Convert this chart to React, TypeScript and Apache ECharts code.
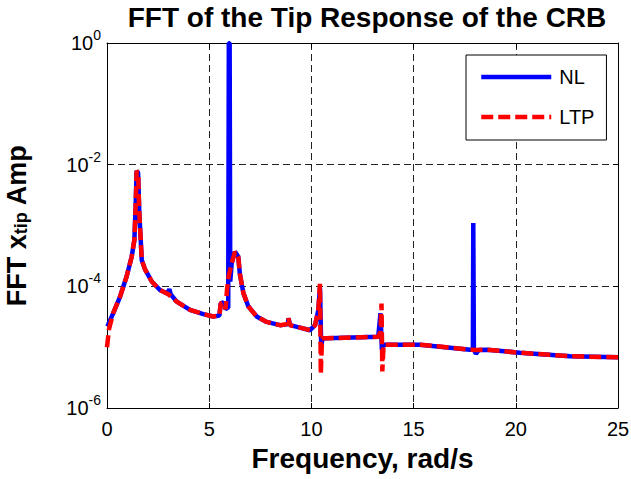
import React, { useEffect, useRef } from "react";
import * as echarts from "echarts";

const FONT = "'Liberation Sans', Arial, Helvetica, sans-serif";

const titleText = "FFT of the Tip Response of the CRB";
const xTitle = "Frequency, rad/s";
const seriesNames = ["NL", "LTP"];

// [frequency (rad/s), FFT amplitude]
const nlPoints: [number, number][] = [
  [0.02, 2.2e-5], [0.30, 3.6e-5], [0.64, 6.8e-5], [0.96, 1.45e-4], [1.21, 3.1e-4],
  [1.34, 5.8e-4], [1.40, 2.0e-3], [1.45, 7.9e-3], [1.52, 7.4e-3], [1.58, 1.6e-3],
  [1.65, 5.8e-4], [1.70, 2.7e-4], [1.86, 1.9e-4], [2.19, 1.2e-4], [2.59, 8.7e-5],
  [2.95, 7.6e-5], [3.05, 9.0e-5], [3.12, 7.4e-5], [3.41, 5.6e-5], [4.06, 4.1e-5],
  [4.71, 3.5e-5], [5.20, 3.2e-5], [5.50, 3.3e-5], [5.56, 5.2e-5], [5.70, 5.5e-5],
  [5.80, 4.2e-5], [5.93, 4.5e-5], [5.96, 1.0], [6.00, 1.0], [6.03, 1.2e-4],
  [6.10, 2.4e-4], [6.26, 3.7e-4], [6.42, 3.1e-4], [6.50, 1.6e-4], [6.67, 7.8e-5],
  [6.91, 4.7e-5], [7.32, 3.2e-5], [7.81, 2.6e-5], [8.46, 2.3e-5], [8.85, 2.4e-5],
  [8.88, 3.0e-5], [8.95, 2.3e-5], [9.44, 2.1e-5], [9.93, 1.9e-5], [10.18, 2.3e-5],
  [10.34, 4.1e-5], [10.42, 9.5e-5], [10.48, 1.05e-5], [10.55, 1.4e-5], [10.75, 1.4e-5],
  [13.27, 1.48e-5], [13.38, 3.6e-5], [13.45, 9.0e-6], [13.52, 1.1e-5], [15.31, 1.1e-5],
  [17.76, 9.1e-6], [17.90, 9.1e-6], [17.92, 1.1e-3], [17.95, 9.1e-6], [18.05, 7.8e-6],
  [18.20, 9.0e-6], [18.58, 9.1e-6], [20.20, 8.1e-6], [22.65, 7.1e-6], [25.00, 6.8e-6],
];

const ltpPoints: [number, number][] = [
  [0.00, 1.0e-5], [0.10, 2.0e-5], [0.30, 3.6e-5], [0.64, 6.8e-5], [0.96, 1.45e-4],
  [1.21, 3.1e-4], [1.34, 5.8e-4], [1.40, 2.0e-3], [1.45, 7.9e-3], [1.52, 7.4e-3],
  [1.58, 1.6e-3], [1.65, 5.8e-4], [1.70, 2.7e-4], [1.86, 1.9e-4], [2.19, 1.2e-4],
  [2.59, 8.7e-5], [3.00, 7.4e-5], [3.41, 5.6e-5], [4.06, 4.1e-5], [4.71, 3.5e-5],
  [5.20, 3.2e-5], [5.50, 3.3e-5], [5.56, 5.2e-5], [5.70, 5.5e-5], [5.80, 4.2e-5],
  [5.87, 8.7e-5], [5.95, 1.45e-4], [6.10, 2.4e-4], [6.26, 3.7e-4], [6.42, 3.1e-4],
  [6.50, 1.6e-4], [6.67, 7.8e-5], [6.91, 4.7e-5], [7.32, 3.2e-5], [7.81, 2.6e-5],
  [8.46, 2.3e-5], [8.85, 2.4e-5], [8.88, 3.0e-5], [8.95, 2.3e-5], [9.44, 2.1e-5],
  [9.93, 1.9e-5], [10.18, 2.3e-5], [10.34, 4.1e-5], [10.42, 1.1e-4], [10.46, 3.6e-6],
  [10.52, 1.4e-5], [10.75, 1.4e-5], [13.27, 1.48e-5], [13.38, 1.8e-5], [13.43, 5.2e-5],
  [13.47, 4.0e-6], [13.53, 1.1e-5], [15.31, 1.1e-5], [17.76, 9.1e-6], [18.10, 9.0e-6],
  [18.58, 9.1e-6], [20.20, 8.1e-6], [22.65, 7.1e-6], [25.00, 6.8e-6],
];

const xMin = 0;
const xMax = 25;
const xStep = 5;
const yMin = 1e-6;
const yMax = 1;
const yDecadeStep = 2;

const axisLineStyle = { color: "#000", width: 1 };

export default function App() {
  const ref = useRef<HTMLDivElement>(null);
  useEffect(() => {
    if (!ref.current) return;
    const chart = echarts.init(ref.current, undefined, { renderer: "svg" });
    const logLabel = (v: number) => {
      const e = Math.round(Math.log10(v));
      return `{b|10}{s|${e}}`;
    };
    chart.setOption({
      animation: false,
      backgroundColor: "#fff",
      textStyle: { fontFamily: FONT, color: "#000" },
      title: {
        text: titleText,
        left: 362,
        top: -2,
        textAlign: "center",
        textStyle: { fontFamily: FONT, fontWeight: "bold", fontSize: 28, color: "#000" },
      },
      grid: { left: 107, right: 13, top: 43, bottom: 71, containLabel: false, outerBoundsMode: "none" },
      legend: {
        data: seriesNames,
        orient: "vertical",
        left: 466,
        top: 55,
        itemWidth: 70,
        itemHeight: 14,
        itemGap: 20,
        padding: [12, 12, 13, 13],
        borderColor: "#000",
        borderWidth: 1,
        borderRadius: 0,
        backgroundColor: "#fff",
        itemStyle: { opacity: 0, borderWidth: 0 },
        lineStyle: { width: 4.5 },
        textStyle: { fontFamily: FONT, fontSize: 20, color: "#000", padding: [0, 0, 0, 3] },
      },
      xAxis: [
        {
          type: "value",
          min: xMin,
          max: xMax,
          interval: xStep,
          axisLine: { show: true, onZero: false, lineStyle: axisLineStyle },
          axisTick: { show: true, inside: true, length: 5, lineStyle: axisLineStyle },
          axisLabel: { fontFamily: FONT, fontSize: 20, color: "#000", margin: 11 },
          splitLine: { show: true, lineStyle: { type: [7, 4], color: "#222", width: 1 } },
          name: xTitle,
          nameLocation: "middle",
          nameGap: 36,
          nameTextStyle: { fontFamily: FONT, fontSize: 28, fontWeight: "bold", color: "#000" },
        },
        {
          type: "value",
          position: "top",
          min: xMin,
          max: xMax,
          interval: xStep,
          axisLine: { show: true, onZero: false, lineStyle: axisLineStyle },
          axisTick: { show: true, inside: true, length: 5, lineStyle: axisLineStyle },
          axisLabel: { show: false },
          splitLine: { show: false },
        },
      ],
      yAxis: [
        {
          type: "log",
          logBase: 10,
          min: yMin,
          max: yMax,
          interval: yDecadeStep,
          axisLine: { show: true, onZero: false, lineStyle: axisLineStyle },
          axisTick: { show: true, inside: true, length: 5, lineStyle: axisLineStyle },
          minorTick: { show: false },
          axisLabel: {
            margin: 6,
            formatter: logLabel,
            rich: {
              b: { fontFamily: FONT, fontSize: 20, color: "#000", lineHeight: 30 },
              s: { fontFamily: FONT, fontSize: 14, color: "#000", lineHeight: 14, verticalAlign: "top" },
            },
          },
          splitLine: { show: true, lineStyle: { type: [7, 4], color: "#222", width: 1 } },
          name: "{a|FFT x}{s|tip}{a| Amp}",
          nameLocation: "middle",
          nameRotate: 90,
          nameGap: 77,
          nameTextStyle: {
            rich: {
              a: { fontFamily: FONT, fontSize: 27, fontWeight: "bold", color: "#000", lineHeight: 34, verticalAlign: "bottom" },
              s: { fontFamily: FONT, fontSize: 18, fontWeight: "bold", color: "#000", lineHeight: 18, verticalAlign: "bottom" },
            },
          },
        },
        {
          type: "log",
          logBase: 10,
          position: "right",
          min: yMin,
          max: yMax,
          interval: yDecadeStep,
          axisLine: { show: true, onZero: false, lineStyle: axisLineStyle },
          axisTick: { show: true, inside: true, length: 5, lineStyle: axisLineStyle },
          axisLabel: { show: false },
          splitLine: { show: false },
        },
      ],
      series: [
        {
          name: seriesNames[0],
          type: "line",
          data: nlPoints,
          symbol: "none",
          showSymbol: false,
          itemStyle: { color: "#0000ff" },
          lineStyle: { color: "#0000ff", width: 4.5 },
          z: 2,
        },
        {
          name: seriesNames[1],
          type: "line",
          data: ltpPoints,
          symbol: "none",
          showSymbol: false,
          itemStyle: { color: "#ff0000" },
          lineStyle: { color: "#ff0000", width: 4.5, type: [12, 5] },
          z: 3,
        },
      ],
    });
    return () => chart.dispose();
  }, []);
  return (
    <div
      ref={ref}
      style={{ position: "fixed", left: 0, top: 0, width: 631, height: 479, background: "#fff" }}
    />
  );
}
